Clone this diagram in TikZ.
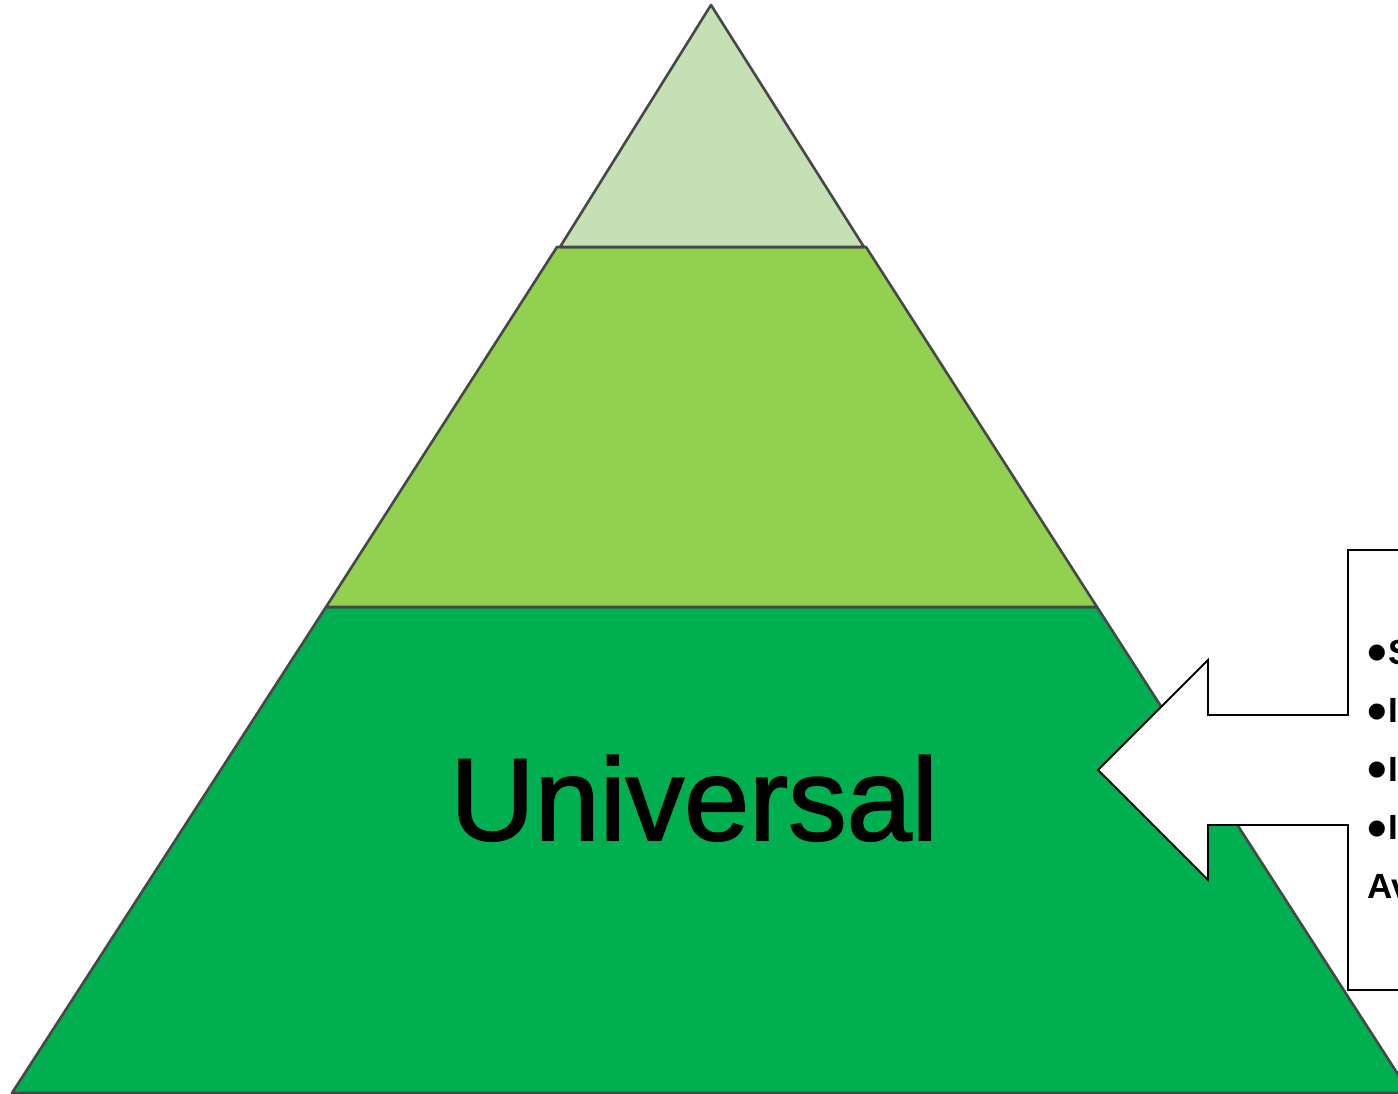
\documentclass[tikz,border=0pt]{standalone}
\usepackage{fontspec}
\setmainfont{Liberation Sans}
\newfontfamily\heavyfont[BoldFont=Liberation Sans, BoldFeatures={FakeBold=1.6}]{Liberation Sans}
\usepackage{xcolor}
\definecolor{tiertop}{HTML}{C5E0B4}
\definecolor{tiermid}{HTML}{92D050}
\definecolor{tierbase}{HTML}{00B050}
\definecolor{edgegrey}{HTML}{474747}
\newcommand{\bigdot}{\raisebox{-7.5pt}{\fontsize{56}{56}\selectfont•}\hspace{2pt}}

\begin{document}
\begin{tikzpicture}[x=1pt, y=-1pt,
    tier/.style={draw=edgegrey, line width=2.6pt, line join=round},
    callout/.style={draw=black, fill=white, line width=1.8pt},
    every node/.style={inner sep=0pt}]
    \useasboundingbox (0,0) rectangle (1398,1094);
    \draw[tier, fill=tierbase] (326,607) -- (1097,607) -- (1410,1093) -- (12,1093) -- cycle;
    \draw[tier, fill=tiermid] (557,247) -- (866,247) -- (1097,607) -- (326,607) -- cycle;
    \draw[tier, fill=tiertop] (711,5) -- (864,247) -- (560,247) -- cycle;
    \node[font=\heavyfont\bfseries\fontsize{117}{117}\selectfont, anchor=base] (univ) at (694,840) {Universal};
    % box with arrow pointing at the base tier
    \draw[callout] (1420,550) -- (1348,550) -- (1348,715) -- (1208,715) -- (1208,660)
        -- (1098,770) -- (1208,880) -- (1208,825) -- (1348,825) -- (1348,990) -- (1420,990);
    \node[anchor=base west, align=left, font=\fontsize{35}{58.5}\selectfont\bfseries] (list) at (1367,898)
        {\bigdot S\\\bigdot I\\\bigdot I\\\bigdot I\\Av};
\end{tikzpicture}
\end{document}
